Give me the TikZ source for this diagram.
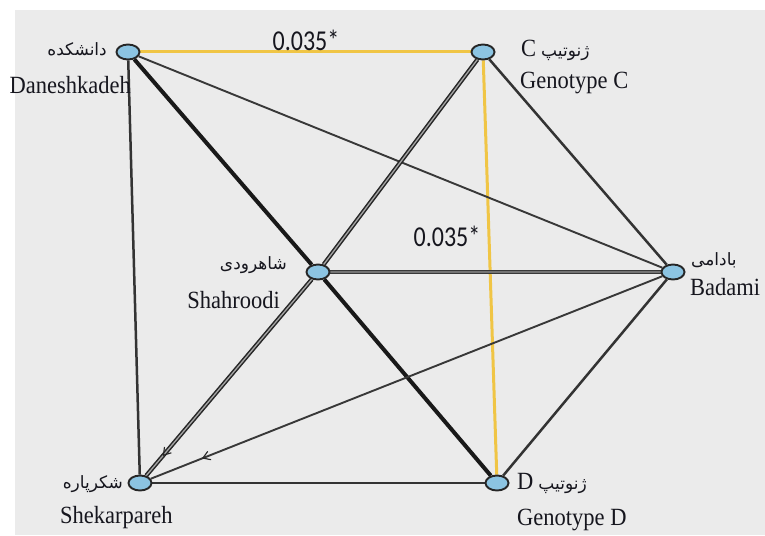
\documentclass[tikz,border=0pt]{standalone}
\usepackage{fontspec}
\usepackage{graphicx}
\setmainfont{Liberation Serif}
\newfontfamily\arabicfont[Script=Arabic]{DejaVu Sans}
\newfontfamily\numfont{Carlito}
\TeXXeTstate=1
\usetikzlibrary{arrows.meta,shapes.geometric,decorations.markings}
\definecolor{nodeblue}{HTML}{8CC4E2}
\definecolor{panel}{HTML}{EBEBEB}
\definecolor{sig}{HTML}{F0C545}
\definecolor{ink}{HTML}{16161E}
\pgfdeclarelayer{back}
\pgfdeclarelayer{edges}
\pgfsetlayers{back,edges,main}
\newcommand{\lat}[1]{\scalebox{1}[1.1]{\fontsize{22.5}{24}\selectfont #1}}
\newcommand{\fa}[1]{{\arabicfont\fontsize{17}{20}\selectfont\beginR #1\endR}}
\newcommand{\pval}[1]{\scalebox{1}[1.2]{\numfont\fontsize{24}{26}\selectfont #1}}
\begin{document}
\begin{tikzpicture}[x=1pt,y=-1pt,
  site/.style={ellipse, draw=black!85, line width=1.9pt, fill=nodeblue,
    minimum width=23pt, minimum height=15pt, inner sep=0pt},
  lbl/.style={inner sep=0pt, text=ink},
  link/.style={draw=black!80, line width=2.5pt},
  thin link/.style={draw=black!78, line width=1.9pt},
  heavy link/.style={draw=black!90, line width=4pt},
  twin link/.style={draw=black!85, line width=1.5pt, double=black!35, double distance=1.3pt},
  grey link/.style={draw=black!78, line width=1.5pt, double=black!55, double distance=1.8pt},
  sig link/.style={draw=sig, line width=3pt},
  barb/.style={postaction={decorate, decoration={markings,
    mark=at position #1 with {\arrow[black!85, line width=1.1pt]{Straight Barb[length=7pt,width=9pt]}}}}}
]
\useasboundingbox (0,0) rectangle (765,535);
\begin{pgfonlayer}{back}
  \fill[white] (0,0) rectangle (765,535);
  \fill[panel] (15,10) rectangle (765,535);
\end{pgfonlayer}

% vertices
\node[site] (dan) at (128,52) {};
\node[site] (gc)  at (483,52) {};
\node[site] (sha) at (318,272) {};
\node[site] (bad) at (673,272) {};
\node[site] (shk) at (140,483) {};
\node[site] (gd)  at (497,483) {};

% connections
\begin{pgfonlayer}{edges}
  \draw[sig link] (dan) -- (gc);
  \draw[sig link] (gc) -- (gd);
  \draw[link] (dan) -- (shk);
  \draw[thin link] (dan) -- (bad);
  \draw[heavy link] (dan) -- (sha);
  \draw[heavy link] (sha) -- (gd);
  \draw[twin link] (gc) -- (sha);
  \draw[twin link, barb=0.9] (sha) -- (shk);
  \draw[link] (gc) -- (bad);
  \draw[grey link] (sha) -- (bad);
  \draw[thin link, barb=0.9] (bad) -- (shk);
  \draw[link] (bad) -- (gd);
  \draw[link] (shk) -- (gd);
\end{pgfonlayer}

% significance labels
\node[lbl] (p1) at (306,40) {\pval{0.035*}};
\node[lbl] (p2) at (447,236) {\pval{0.035*}};

% vertex labels
\node[lbl, anchor=east] (danfa) at (107,49) {\fa{دانشکده}};
\node[lbl, anchor=east] (danen) at (131,85) {\lat{Daneshkadeh}};
\node[lbl, anchor=west] (gcfa) at (521,50) {\lat{C}\hspace{5pt}\fa{ژنوتیپ}};
\node[lbl, anchor=west] (gcen) at (520,83) {\lat{Genotype C}};
\node[lbl, anchor=east] (shafa) at (287,265) {\fa{شاهرودی}};
\node[lbl, anchor=east] (shaen) at (280,300) {\lat{Shahroodi}};
\node[lbl, anchor=west] (badfa) at (691,260) {\fa{بادامی}};
\node[lbl, anchor=west] (baden) at (690,287) {\lat{Badami}};
\node[lbl, anchor=east] (shkfa) at (123,484) {\fa{شکرپاره}};
\node[lbl, anchor=west] (shken) at (60,518) {\lat{Shekarpareh}};
\node[lbl, anchor=west] (gdfa) at (517,483) {\lat{D}\hspace{5pt}\fa{ژنوتیپ}};
\node[lbl, anchor=west] (gden) at (517,520) {\lat{Genotype D}};
\end{tikzpicture}
\end{document}
